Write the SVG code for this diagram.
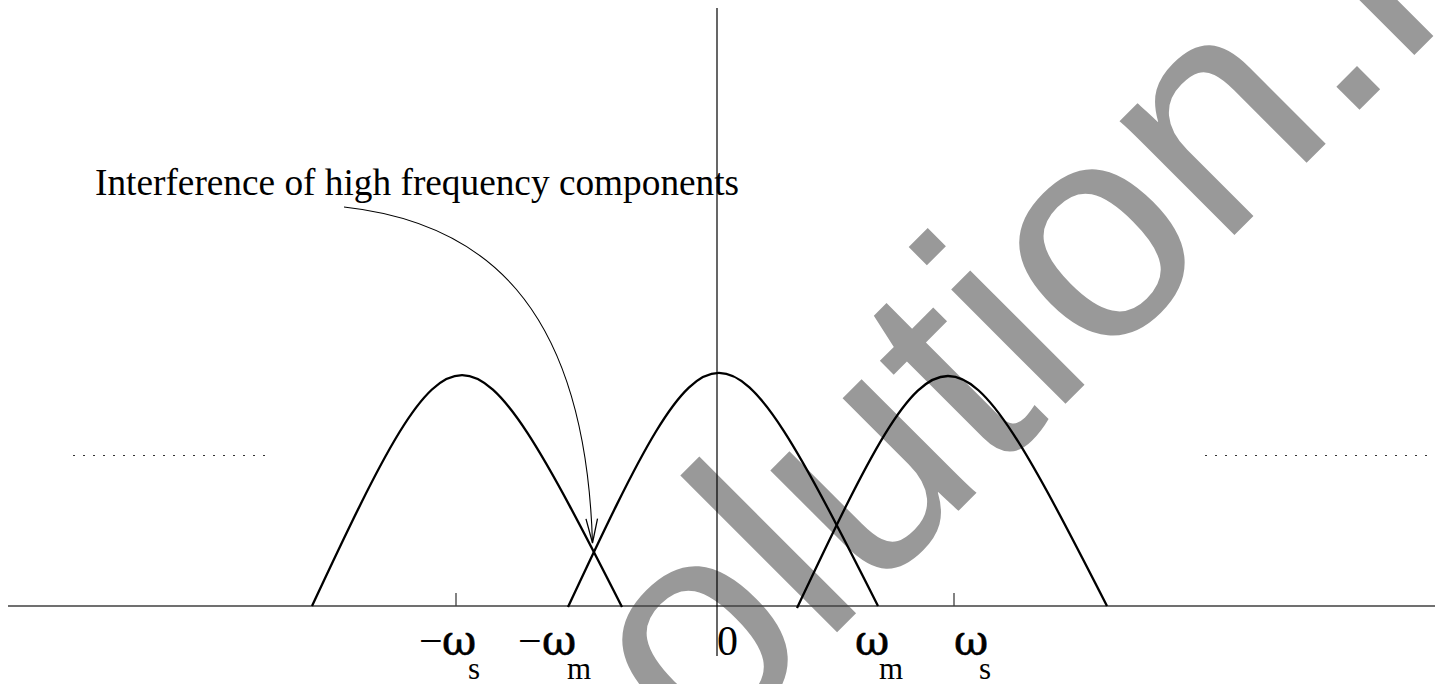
<svg xmlns="http://www.w3.org/2000/svg" width="1435" height="684" viewBox="0 0 1435 684">
<style>
.wm{font-family:"Liberation Sans",Arial,sans-serif;font-size:306px;fill:#999999}
.axis{stroke:#404040;stroke-width:1.6;fill:none}
.vaxis{stroke:#000;stroke-width:1.2;fill:none}
.tick{stroke:#404040;stroke-width:1.3;fill:none}
.hump{stroke:#000;stroke-width:2.3;fill:none}
.dots{stroke:#333;stroke-width:1.2;stroke-dasharray:2 8;fill:none}
.lbl{font-family:"Liberation Serif","Times New Roman",serif;font-size:42px;fill:#000}
.om{font-family:"DejaVu Serif","Liberation Serif",serif;font-size:42px;fill:#000;stroke:#000;stroke-width:0.6}
.sub{font-family:"Liberation Serif","Times New Roman",serif;font-size:31px;fill:#000}
.note{font-family:"Liberation Serif","Times New Roman",serif;font-size:37.3px;fill:#000}
.conn{stroke:#000;stroke-width:1.1;fill:none}
</style>
<defs>
<marker id="arr" markerUnits="userSpaceOnUse" markerWidth="30" markerHeight="20" viewBox="-24 -8 26 16" refX="0" refY="0" orient="auto">
<path d="M-21,-5 L0,0 L-21,5" fill="none" stroke="#000" stroke-width="1.1"/>
</marker>
</defs>
<rect width="1435" height="684" fill="#fff"/>
<g id="watermark">
<text class="wm" x="-46" y="1039" transform="rotate(-45)">olution.i</text>
</g>
<g id="axes">
<line class="axis" x1="8" y1="606" x2="1435" y2="606"/>
<line class="vaxis" x1="717" y1="8" x2="717" y2="656"/>
<line class="tick" x1="456" y1="593" x2="456" y2="606"/>
<line class="tick" x1="954" y1="593" x2="954" y2="606"/>
<line class="dots" x1="73" y1="455.5" x2="268" y2="455.5"/>
<line class="dots" x1="1205" y1="455.5" x2="1435" y2="455.5"/>
</g>
<g id="hump-left">
<path class="hump" d="M312,606 C456,298 465,298 622,607"/>
</g>
<g id="hump-center">
<path class="hump" d="M568,607 C714,295 721,295 878,606"/>
</g>
<g id="hump-right">
<path class="hump" d="M797,608 C943,299 950,299 1107,606"/>
</g>
<g id="labels">
<text class="lbl" x="419" y="655">−</text>
<text class="om" x="442" y="655">ω</text>
<text class="sub" x="468" y="679">s</text>
<text class="lbl" x="518" y="655">−</text>
<text class="om" x="542" y="655">ω</text>
<text class="sub" x="567" y="679">m</text>
<text class="lbl" x="717" y="655">0</text>
<text class="om" x="855" y="655">ω</text>
<text class="sub" x="879" y="679">m</text>
<text class="om" x="954" y="655">ω</text>
<text class="sub" x="979" y="679">s</text>
</g>
<g id="note">
<text class="note" x="95" y="195">Interference of high frequency components</text>
</g>
<g id="connectors">
<path class="conn" d="M344,207 C480,222 585,300 592.5,543" marker-end="url(#arr)"/>
</g>
</svg>
